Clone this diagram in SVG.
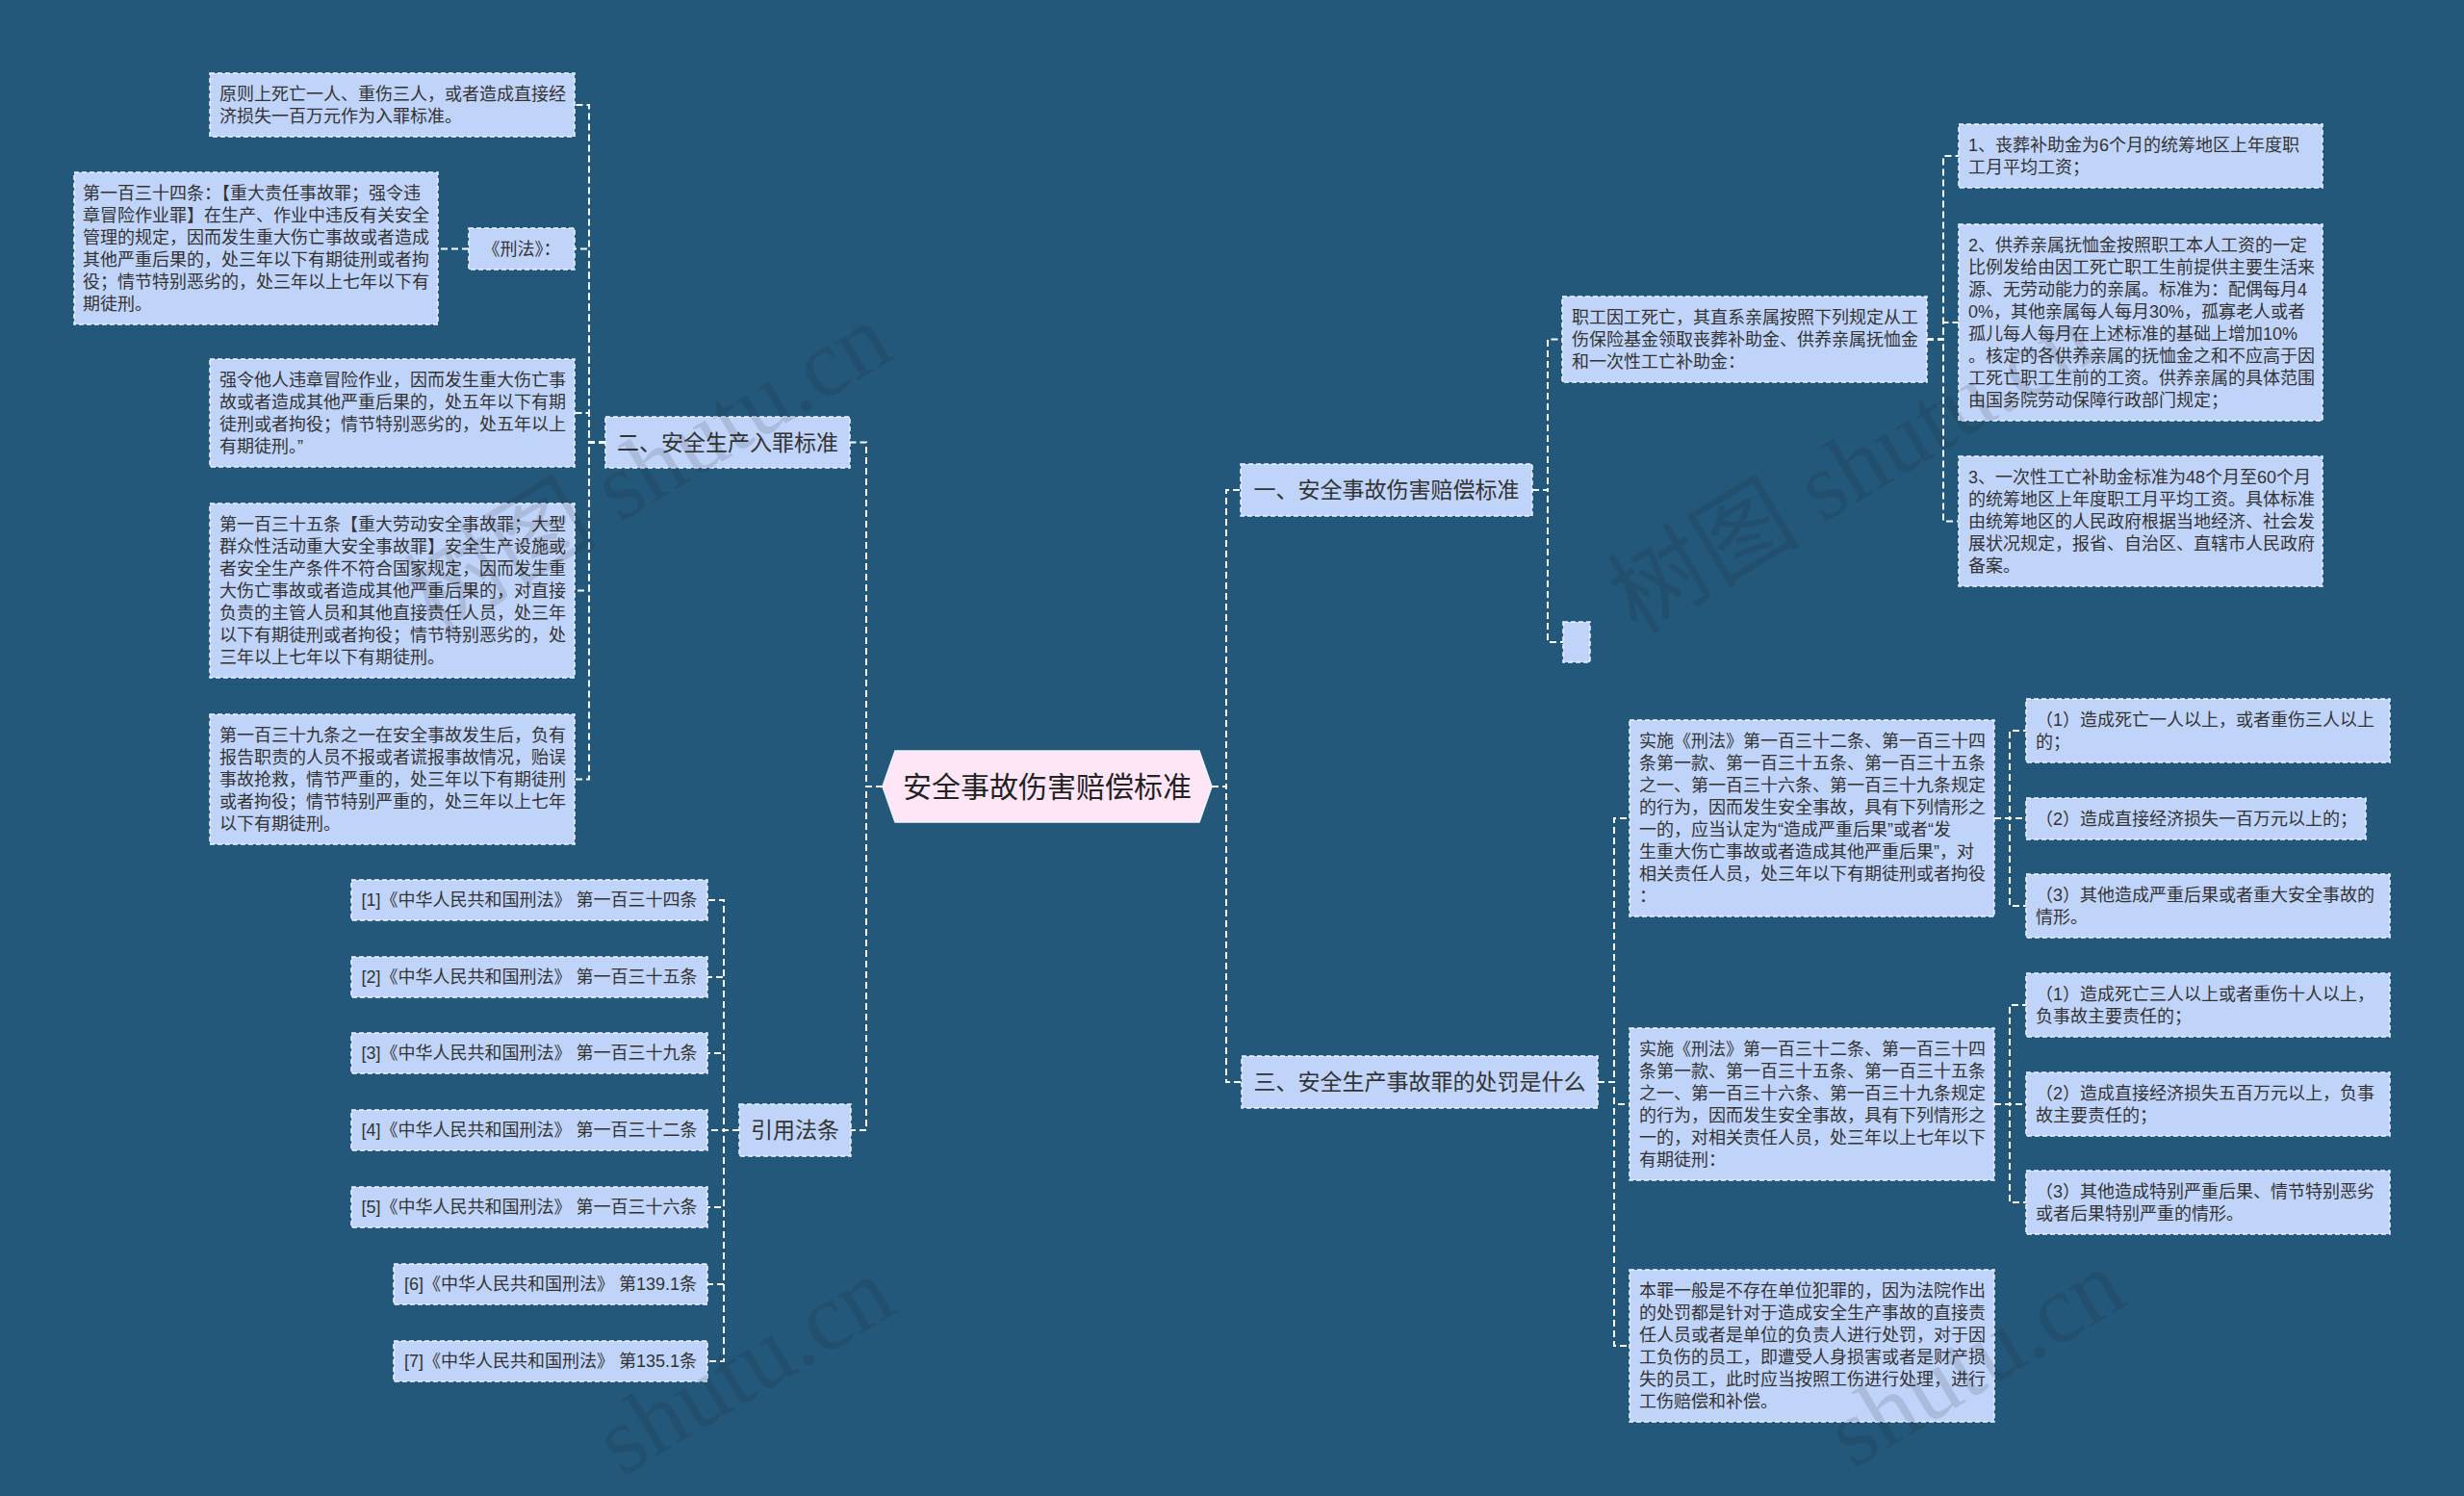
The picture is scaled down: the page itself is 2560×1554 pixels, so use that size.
<svg xmlns="http://www.w3.org/2000/svg" width="2560" height="1554" viewBox="0 0 2560 1554">
<style>
.bg{fill:#24587A}
.box{fill:#C0D4FA;stroke:#EEF3FF;stroke-width:1.5;stroke-dasharray:5 3}
.root{fill:#FFE6F7;stroke:#EEF3FF;stroke-width:1.5}
.t{font-family:"Liberation Sans","Noto Sans CJK SC",sans-serif;font-size:18px;fill:#333}
.m{text-anchor:middle}
.t23{font-family:"Liberation Sans","Noto Sans CJK SC",sans-serif;font-size:23px;fill:#333;text-anchor:middle}
.t30{font-family:"Liberation Sans","Noto Sans CJK SC",sans-serif;font-size:30px;fill:#222;text-anchor:middle}
.conn path{fill:none;stroke:#FFFFFF;stroke-width:2;stroke-dasharray:7 4}
.wm{font-family:"Liberation Serif","Noto Sans CJK SC",serif;font-size:100px;fill:#1a1a1a;fill-opacity:0.13;text-anchor:middle}
</style>
<rect class="bg" x="0" y="0" width="2560" height="1554"/>

<g id="connectors" class="conn">
<path d="M917,817 H900 V459.5 H883"/>
<path d="M917,817 H900 V1174 H884"/>
<path d="M629,459.5 H612 V109 H597"/>
<path d="M629,459.5 H612 V258.5 H597"/>
<path d="M629,459.5 H612 V429 H597"/>
<path d="M629,459.5 H612 V613.5 H597"/>
<path d="M629,459.5 H612 V809.5 H597"/>
<path d="M487,258.5 H455"/>
<path d="M768,1174 H752 V935 H735"/>
<path d="M768,1174 H752 V1015 H735"/>
<path d="M768,1174 H752 V1094 H735"/>
<path d="M768,1174 H735"/>
<path d="M768,1174 H752 V1254 H735"/>
<path d="M768,1174 H752 V1334 H735"/>
<path d="M768,1174 H752 V1414 H735"/>
<path d="M1259,817 H1274 V509 H1289"/>
<path d="M1259,817 H1274 V1124 H1290"/>
<path d="M1592,509 H1608 V352.5 H1623"/>
<path d="M1592,509 H1608 V667 H1624"/>
<path d="M2002,352.5 H2019 V162 H2035"/>
<path d="M2002,352.5 H2019 V335 H2035"/>
<path d="M2002,352.5 H2019 V541.5 H2035"/>
<path d="M1660,1124 H1677 V850 H1693"/>
<path d="M1660,1124 H1677 V1147 H1693"/>
<path d="M1660,1124 H1677 V1398 H1693"/>
<path d="M2072,850 H2088 V759 H2105"/>
<path d="M2072,850 H2105"/>
<path d="M2072,850 H2088 V941 H2105"/>
<path d="M2072,1147 H2088 V1044 H2105"/>
<path d="M2072,1147 H2105"/>
<path d="M2072,1147 H2088 V1249 H2105"/>
</g>

<g id="root">
<polygon class="root" points="917,817 930,780 1246,780 1259,817 1246,854 930,854"/>
<text class="t30" x="1088" y="828">安全事故伤害赔偿标准</text>
</g>

<g id="n2">
<rect class="box" x="629" y="433" width="254" height="53"/>
<text class="t23" x="756" y="468">二、安全生产入罪标准</text>
</g>
<g id="n2a">
<rect class="box" x="218" y="76" width="379" height="66"/>
<text class="t"><tspan x="228" y="104">原则上死亡一人、重伤三人，或者造成直接经</tspan><tspan x="228" y="127">济损失一百万元作为入罪标准。</tspan></text>
</g>
<g id="n2b">
<rect class="box" x="487" y="237" width="110" height="43"/>
<text class="t m" x="542" y="265">《刑法》：</text>
</g>
<g id="n2b1">
<rect class="box" x="77" y="179" width="378" height="158"/>
<text class="t"><tspan x="86" y="207">第一百三十四条：【重大责任事故罪；强令违</tspan><tspan x="86" y="230">章冒险作业罪】在生产、作业中违反有关安全</tspan><tspan x="86" y="253">管理的规定，因而发生重大伤亡事故或者造成</tspan><tspan x="86" y="276">其他严重后果的，处三年以下有期徒刑或者拘</tspan><tspan x="86" y="299">役；情节特别恶劣的，处三年以上七年以下有</tspan><tspan x="86" y="322">期徒刑。</tspan></text>
</g>
<g id="n2c">
<rect class="box" x="218" y="373" width="379" height="112"/>
<text class="t"><tspan x="228" y="401">强令他人违章冒险作业，因而发生重大伤亡事</tspan><tspan x="228" y="424">故或者造成其他严重后果的，处五年以下有期</tspan><tspan x="228" y="447">徒刑或者拘役；情节特别恶劣的，处五年以上</tspan><tspan x="228" y="470">有期徒刑。”</tspan></text>
</g>
<g id="n2d">
<rect class="box" x="218" y="523" width="379" height="181"/>
<text class="t"><tspan x="228" y="551">第一百三十五条【重大劳动安全事故罪；大型</tspan><tspan x="228" y="574">群众性活动重大安全事故罪】安全生产设施或</tspan><tspan x="228" y="597">者安全生产条件不符合国家规定，因而发生重</tspan><tspan x="228" y="620">大伤亡事故或者造成其他严重后果的，对直接</tspan><tspan x="228" y="643">负责的主管人员和其他直接责任人员，处三年</tspan><tspan x="228" y="666">以下有期徒刑或者拘役；情节特别恶劣的，处</tspan><tspan x="228" y="689">三年以上七年以下有期徒刑。</tspan></text>
</g>
<g id="n2e">
<rect class="box" x="218" y="742" width="379" height="135"/>
<text class="t"><tspan x="228" y="770">第一百三十九条之一在安全事故发生后，负有</tspan><tspan x="228" y="793">报告职责的人员不报或者谎报事故情况，贻误</tspan><tspan x="228" y="816">事故抢救，情节严重的，处三年以下有期徒刑</tspan><tspan x="228" y="839">或者拘役；情节特别严重的，处三年以上七年</tspan><tspan x="228" y="862">以下有期徒刑。</tspan></text>
</g>

<g id="n4">
<rect class="box" x="768" y="1147" width="116" height="54"/>
<text class="t23" x="826" y="1182">引用法条</text>
</g>
<g id="r1"><rect class="box" x="365" y="914" width="370" height="42"/><text class="t m" x="550" y="941">[1]《中华人民共和国刑法》 第一百三十四条</text></g>
<g id="r2"><rect class="box" x="365" y="994" width="370" height="42"/><text class="t m" x="550" y="1021">[2]《中华人民共和国刑法》 第一百三十五条</text></g>
<g id="r3"><rect class="box" x="365" y="1073" width="370" height="42"/><text class="t m" x="550" y="1100">[3]《中华人民共和国刑法》 第一百三十九条</text></g>
<g id="r4"><rect class="box" x="365" y="1153" width="370" height="42"/><text class="t m" x="550" y="1180">[4]《中华人民共和国刑法》 第一百三十二条</text></g>
<g id="r5"><rect class="box" x="365" y="1233" width="370" height="42"/><text class="t m" x="550" y="1260">[5]《中华人民共和国刑法》 第一百三十六条</text></g>
<g id="r6"><rect class="box" x="409" y="1313" width="326" height="42"/><text class="t m" x="572" y="1340">[6]《中华人民共和国刑法》 第139.1条</text></g>
<g id="r7"><rect class="box" x="409" y="1393" width="326" height="42"/><text class="t m" x="572" y="1420">[7]《中华人民共和国刑法》 第135.1条</text></g>

<g id="n1">
<rect class="box" x="1289" y="482" width="303" height="54"/>
<text class="t23" x="1440.5" y="517">一、安全事故伤害赔偿标准</text>
</g>
<g id="n1a">
<rect class="box" x="1623" y="308" width="379" height="89"/>
<text class="t"><tspan x="1633" y="336">职工因工死亡，其直系亲属按照下列规定从工</tspan><tspan x="1633" y="359">伤保险基金领取丧葬补助金、供养亲属抚恤金</tspan><tspan x="1633" y="382">和一次性工亡补助金：</tspan></text>
</g>
<g id="n1b">
<rect class="box" x="1624" y="646" width="28" height="42"/>
</g>
<g id="n1a1">
<rect class="box" x="2035" y="129" width="378" height="66"/>
<text class="t"><tspan x="2045" y="157">1、丧葬补助金为6个月的统筹地区上年度职</tspan><tspan x="2045" y="180">工月平均工资；</tspan></text>
</g>
<g id="n1a2">
<rect class="box" x="2035" y="233" width="378" height="204"/>
<text class="t"><tspan x="2045" y="261">2、供养亲属抚恤金按照职工本人工资的一定</tspan><tspan x="2045" y="284">比例发给由因工死亡职工生前提供主要生活来</tspan><tspan x="2045" y="307">源、无劳动能力的亲属。标准为：配偶每月4</tspan><tspan x="2045" y="330">0%，其他亲属每人每月30%，孤寡老人或者</tspan><tspan x="2045" y="353">孤儿每人每月在上述标准的基础上增加10%</tspan><tspan x="2045" y="376">。核定的各供养亲属的抚恤金之和不应高于因</tspan><tspan x="2045" y="399">工死亡职工生前的工资。供养亲属的具体范围</tspan><tspan x="2045" y="422">由国务院劳动保障行政部门规定；</tspan></text>
</g>
<g id="n1a3">
<rect class="box" x="2035" y="474" width="378" height="135"/>
<text class="t"><tspan x="2045" y="502">3、一次性工亡补助金标准为48个月至60个月</tspan><tspan x="2045" y="525">的统筹地区上年度职工月平均工资。具体标准</tspan><tspan x="2045" y="548">由统筹地区的人民政府根据当地经济、社会发</tspan><tspan x="2045" y="571">展状况规定，报省、自治区、直辖市人民政府</tspan><tspan x="2045" y="594">备案。</tspan></text>
</g>

<g id="n3">
<rect class="box" x="1290" y="1097" width="370" height="54"/>
<text class="t23" x="1475" y="1132">三、安全生产事故罪的处罚是什么</text>
</g>
<g id="n3a">
<rect class="box" x="1693" y="748" width="379" height="204"/>
<text class="t"><tspan x="1703" y="776">实施《刑法》第一百三十二条、第一百三十四</tspan><tspan x="1703" y="799">条第一款、第一百三十五条、第一百三十五条</tspan><tspan x="1703" y="822">之一、第一百三十六条、第一百三十九条规定</tspan><tspan x="1703" y="845">的行为，因而发生安全事故，具有下列情形之</tspan><tspan x="1703" y="868">一的，应当认定为“造成严重后果”或者“发</tspan><tspan x="1703" y="891">生重大伤亡事故或者造成其他严重后果”，对</tspan><tspan x="1703" y="914">相关责任人员，处三年以下有期徒刑或者拘役</tspan><tspan x="1703" y="937">：</tspan></text>
</g>
<g id="n3a1">
<rect class="box" x="2105" y="726" width="378" height="66"/>
<text class="t"><tspan x="2115" y="754">（1）造成死亡一人以上，或者重伤三人以上</tspan><tspan x="2115" y="777">的；</tspan></text>
</g>
<g id="n3a2">
<rect class="box" x="2105" y="829" width="353" height="43"/>
<text class="t"><tspan x="2115" y="857">（2）造成直接经济损失一百万元以上的；</tspan></text>
</g>
<g id="n3a3">
<rect class="box" x="2105" y="908" width="378" height="66"/>
<text class="t"><tspan x="2115" y="936">（3）其他造成严重后果或者重大安全事故的</tspan><tspan x="2115" y="959">情形。</tspan></text>
</g>
<g id="n3b">
<rect class="box" x="1693" y="1068" width="379" height="158"/>
<text class="t"><tspan x="1703" y="1096">实施《刑法》第一百三十二条、第一百三十四</tspan><tspan x="1703" y="1119">条第一款、第一百三十五条、第一百三十五条</tspan><tspan x="1703" y="1142">之一、第一百三十六条、第一百三十九条规定</tspan><tspan x="1703" y="1165">的行为，因而发生安全事故，具有下列情形之</tspan><tspan x="1703" y="1188">一的，对相关责任人员，处三年以上七年以下</tspan><tspan x="1703" y="1211">有期徒刑：</tspan></text>
</g>
<g id="n3b1">
<rect class="box" x="2105" y="1011" width="378" height="66"/>
<text class="t"><tspan x="2115" y="1039">（1）造成死亡三人以上或者重伤十人以上，</tspan><tspan x="2115" y="1062">负事故主要责任的；</tspan></text>
</g>
<g id="n3b2">
<rect class="box" x="2105" y="1114" width="378" height="66"/>
<text class="t"><tspan x="2115" y="1142">（2）造成直接经济损失五百万元以上，负事</tspan><tspan x="2115" y="1165">故主要责任的；</tspan></text>
</g>
<g id="n3b3">
<rect class="box" x="2105" y="1216" width="378" height="66"/>
<text class="t"><tspan x="2115" y="1244">（3）其他造成特别严重后果、情节特别恶劣</tspan><tspan x="2115" y="1267">或者后果特别严重的情形。</tspan></text>
</g>
<g id="n3c">
<rect class="box" x="1693" y="1319" width="379" height="158"/>
<text class="t"><tspan x="1703" y="1347">本罪一般是不存在单位犯罪的，因为法院作出</tspan><tspan x="1703" y="1370">的处罚都是针对于造成安全生产事故的直接责</tspan><tspan x="1703" y="1393">任人员或者是单位的负责人进行处罚，对于因</tspan><tspan x="1703" y="1416">工负伤的员工，即遭受人身损害或者是财产损</tspan><tspan x="1703" y="1439">失的员工，此时应当按照工伤进行处理，进行</tspan><tspan x="1703" y="1462">工伤赔偿和补偿。</tspan></text>
</g>

<g id="watermark">
<text class="wm" x="673" y="520" transform="rotate(-31 673 485)">树图 shutu.cn</text>
<text class="wm" x="1923" y="520" transform="rotate(-31 1923 485)">树图 shutu.cn</text>
<text class="wm" x="790" y="1448" transform="rotate(-31 790 1448)">shutu.cn</text>
<text class="wm" x="2069" y="1440" transform="rotate(-31 2069 1440)">shutu.cn</text>
</g>
</svg>
